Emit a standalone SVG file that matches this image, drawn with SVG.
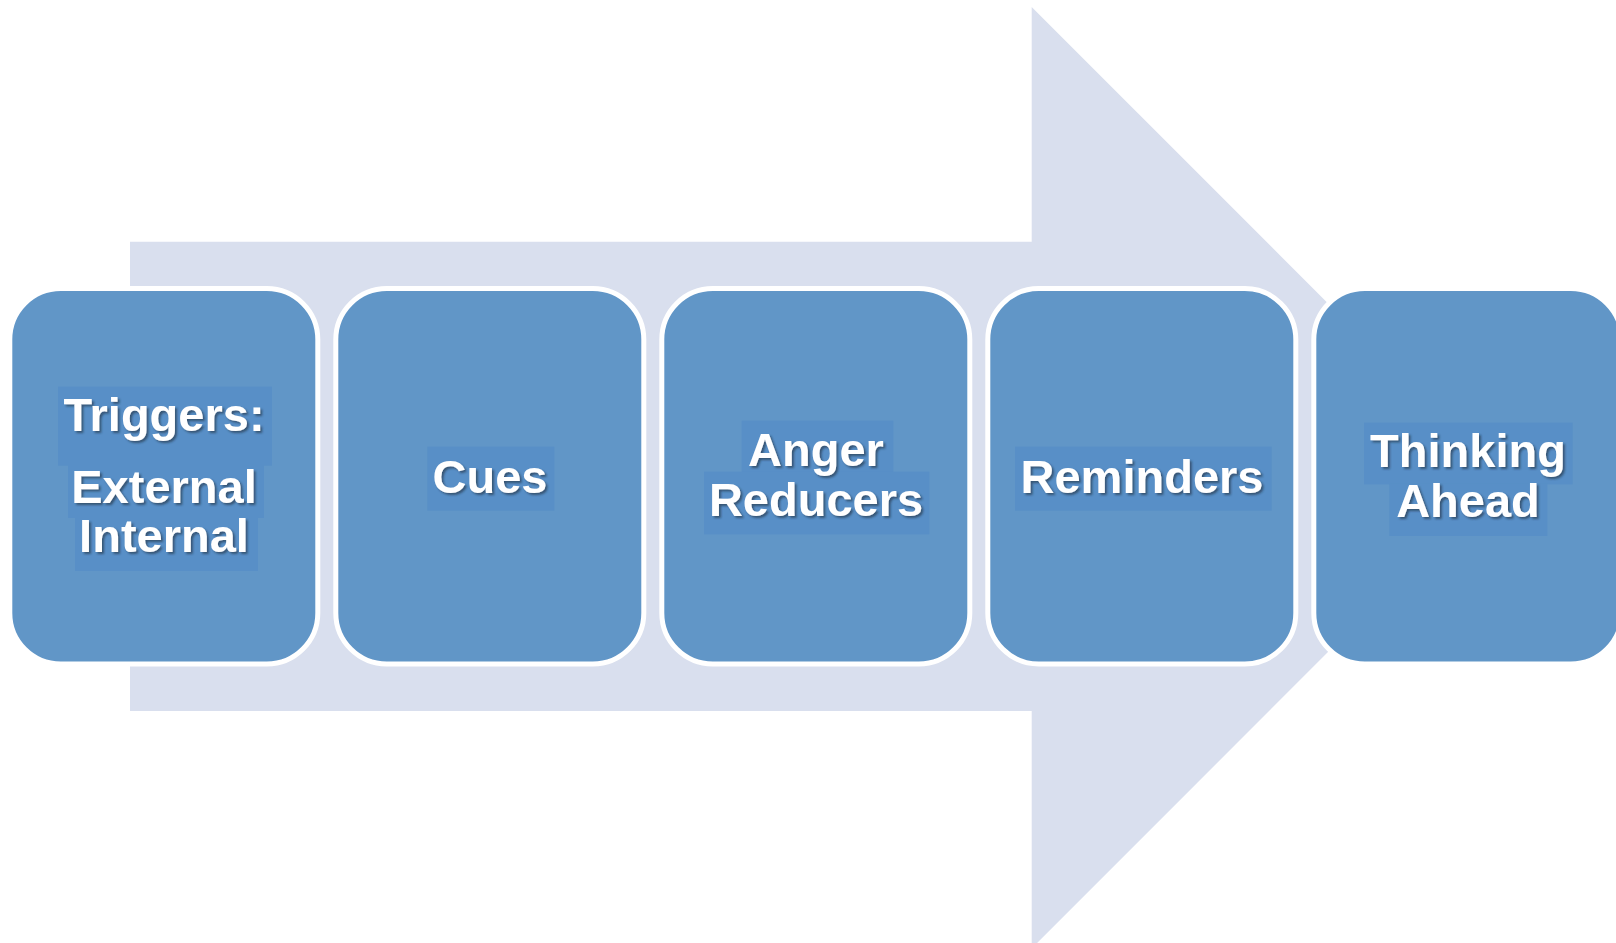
<svg xmlns="http://www.w3.org/2000/svg" width="1616" height="943" viewBox="0 0 1616 943">
  <defs>
    <filter id="txtShadow" x="-10%" y="-20%" width="130%" height="150%">
      <feDropShadow dx="2" dy="2" stdDeviation="1" flood-color="#1f2a3a" flood-opacity="0.6"/>
    </filter>
  </defs>
  <style>
    .step { fill: #6196c7; stroke: #ffffff; stroke-width: 5; }
    .hl { fill: #588fc7; }
    .label { font-family: "Liberation Sans", Arial, sans-serif; font-weight: bold; font-size: 47px; fill: #ffffff; text-anchor: middle; filter: url(#txtShadow); }
  </style>

  <rect width="1616" height="943" fill="#ffffff"/>

  <!-- background block arrow -->
  <g id="connectors">
    <polygon points="130,241.7 1031.7,241.7 1031.7,7 1502.3,477.7 1031.7,948.4 1031.7,711 130,711" fill="#d9dfee"/>
  </g>

  <!-- step 1 -->
  <g id="node-triggers">
    <rect class="step" x="9.8" y="288.5" width="308" height="375.5" rx="51"/>
    <rect class="hl" x="58" y="386.7" width="214" height="79"/>
    <rect class="hl" x="68" y="465" width="196" height="53"/>
    <rect class="hl" x="75" y="516.5" width="183" height="54.5"/>
    <text class="label" x="164" y="431">Triggers:</text>
    <text class="label" x="164" y="503">External</text>
    <text class="label" x="164" y="552">Internal</text>
  </g>

  <!-- step 2 -->
  <g id="node-cues">
    <rect class="step" x="335.8" y="288.5" width="308" height="375.5" rx="51"/>
    <rect class="hl" x="427.3" y="446.7" width="127" height="64"/>
    <text class="label" x="490" y="492.7">Cues</text>
  </g>

  <!-- step 3 -->
  <g id="node-anger-reducers">
    <rect class="step" x="661.8" y="288.5" width="308" height="375.5" rx="51"/>
    <rect class="hl" x="741.7" y="420.7" width="151.6" height="52"/>
    <rect class="hl" x="704" y="471.7" width="225.3" height="62.6"/>
    <text class="label" x="816" y="465.5">Anger</text>
    <text class="label" x="816" y="515.5">Reducers</text>
  </g>

  <!-- step 4 -->
  <g id="node-reminders">
    <rect class="step" x="987.8" y="288.5" width="308" height="375.5" rx="51"/>
    <rect class="hl" x="1015" y="446.7" width="256.7" height="64"/>
    <text class="label" x="1142" y="492.7">Reminders</text>
  </g>

  <!-- step 5 -->
  <g id="node-thinking-ahead">
    <rect class="step" x="1313.8" y="288.5" width="308" height="375.5" rx="51"/>
    <rect class="hl" x="1364" y="422.7" width="208.7" height="61.6"/>
    <rect class="hl" x="1389.3" y="483.3" width="158" height="52.7"/>
    <text class="label" x="1468" y="466.7">Thinking</text>
    <text class="label" x="1468" y="517.3">Ahead</text>
  </g>
</svg>
